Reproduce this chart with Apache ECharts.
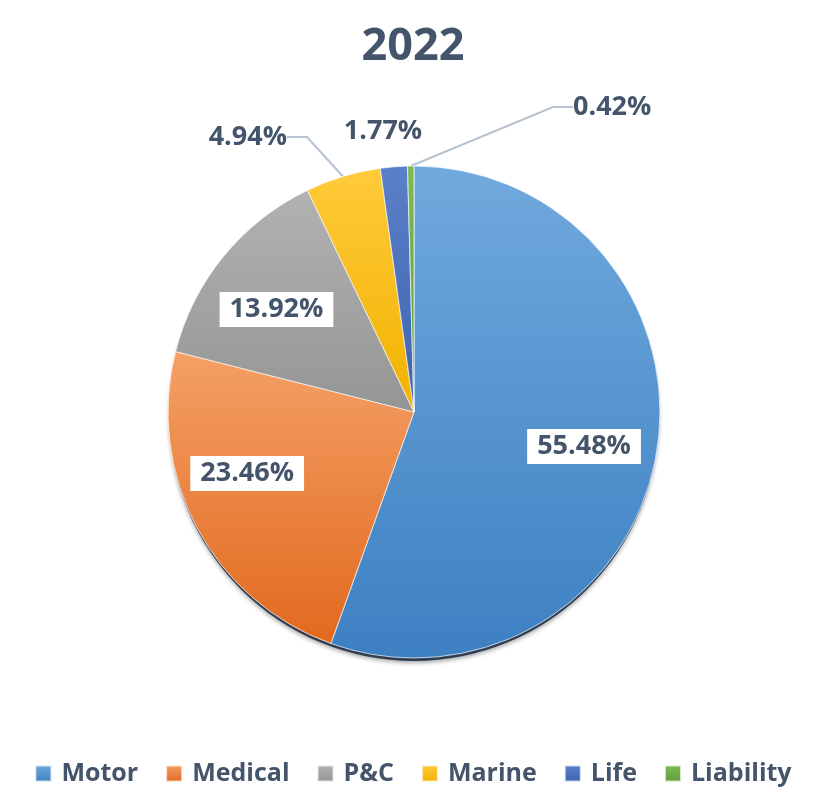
<!DOCTYPE html>
<html>
<head>
<meta charset="utf-8">
<script src="https://cdn.jsdelivr.net/npm/echarts@6/dist/echarts.min.js"></script>
<style>
  html, body { margin: 0; padding: 0; background: #fff; }
  #chart { width: 826px; height: 810px; }
</style>
</head>
<body>
<div id="chart"></div>
<script>
const categories = ['Motor', 'Medical', 'P&C', 'Marine', 'Life', 'Liability']
const shares = [55.48, 23.46, 13.92, 4.94, 1.77, 0.42]
const title = '2022'

// top / bottom of each slice's gradient
const topColors = ['#70A9DD', '#F4A066', '#B2B2B2', '#FFCA3A', '#5B80C9', '#7DBB56']
const bottomColors = ['#3D80C2', '#E2691E', '#959595', '#F2B200', '#3D63B0', '#5E9E3A']

const textColor = '#44546A'
const font = '"Open Sans", "Noto Sans", sans-serif'
const center = [414, 412]
const R = 246

// where the small slices put their labels
const outsideSpots = {
  3: { x: 287, y: 137, align: 'right' },
  4: { x: 383, y: 131, align: 'center' },
  5: { x: 573, y: 107, align: 'left' },
}
// nudges for the boxed labels inside the big slices
const insideNudge = { 0: [-5, 4], 1: [-10, -22], 2: [0, 10] }

const grad = (i) => new echarts.graphic.LinearGradient(0, 0, 0, 1, [
  { offset: 0, color: topColors[i] },
  { offset: 1, color: bottomColors[i] },
])

const pct = (p) => p.value.toFixed(2) + '%'

const mainData = categories.map((name, i) => ({
  name,
  value: shares[i],
  itemStyle: { color: grad(i) },
  label: { show: i >= 3 },
  labelLine: { show: i === 3 || i === 5 },
}))

const overlayData = categories.map((name, i) => ({
  name,
  value: shares[i],
  label: { show: i < 3, offset: insideNudge[i] || [0, 0] },
}))

const chart = echarts.init(document.getElementById('chart'))
chart.setOption({
  backgroundColor: '#fff',
  animation: false,
  title: {
    text: title,
    left: 'center',
    top: 20,
    textStyle: { fontFamily: font, fontSize: 45, fontWeight: 'bold', color: textColor },
  },
  legend: {
    data: categories,
    bottom: 19,
    left: 'center',
    itemWidth: 16,
    itemHeight: 16,
    itemGap: 27,
    icon: 'rect',
    textStyle: { fontFamily: font, fontSize: 25, fontWeight: 'bold', color: textColor, padding: [0, 0, 0, 5] },
  },
  series: [
    {
      // dark rim under the pie, a bit lower so it peeks out at the bottom
      name: 'shadow',
      type: 'pie',
      center: [center[0], center[1] + 4],
      radius: [0, R - 1],
      silent: true,
      label: { show: false },
      labelLine: { show: false },
      itemStyle: {
        color: 'rgba(25,40,65,0.85)',
        shadowBlur: 4,
        shadowOffsetY: 2,
        shadowColor: 'rgba(0,0,0,0.4)',
      },
      data: [{ name: '_bg', value: 1 }],
    },
    {
      name: 'share',
      type: 'pie',
      center,
      radius: [0, R],
      startAngle: 90,
      clockwise: true,
      avoidLabelOverlap: false,
      itemStyle: { borderColor: 'rgba(255,255,255,0.7)', borderWidth: 1 },
      label: {
        position: 'outside',
        formatter: pct,
        fontFamily: font,
        fontSize: 27,
        fontWeight: 'bold',
        color: textColor,
      },
      labelLine: {
        length: 35,
        length2: 20,
        lineStyle: { color: '#B7C3D1', width: 2 },
      },
      labelLayout: (p) => {
        const s = outsideSpots[p.dataIndex]
        if (!s) return {}
        return { x: s.x, y: s.y, align: s.align, verticalAlign: 'middle' }
      },
      data: mainData,
    },
    {
      // transparent ring that carries the boxed inside labels
      name: 'labels',
      type: 'pie',
      center,
      radius: [R * 0.42, R],
      startAngle: 90,
      silent: true,
      itemStyle: { color: 'rgba(0,0,0,0)' },
      label: {
        position: 'inside',
        formatter: pct,
        fontFamily: font,
        fontSize: 27,
        fontWeight: 'bold',
        color: textColor,
        backgroundColor: '#fff',
        padding: [4, 10],
      },
      labelLine: { show: false },
      data: overlayData,
    },
  ],
})
</script>
</body>
</html>
